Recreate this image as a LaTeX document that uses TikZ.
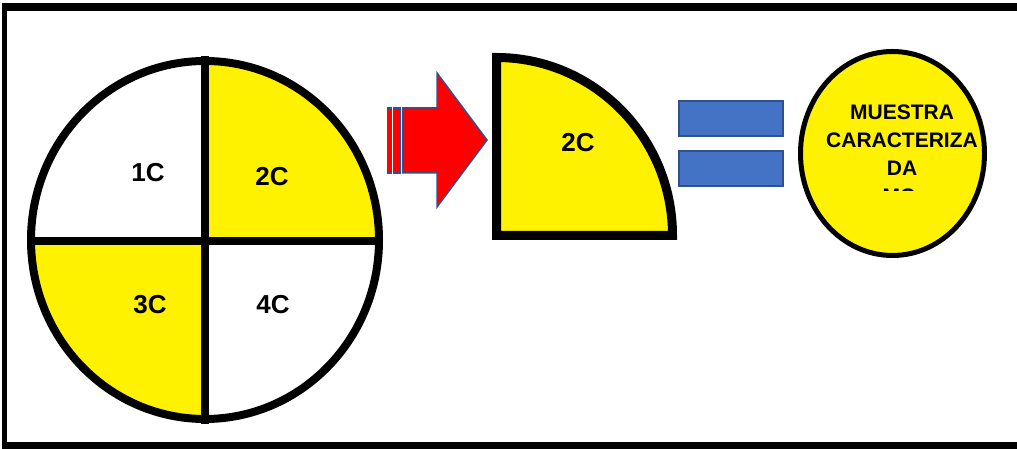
\documentclass[tikz,border=0pt]{standalone}
\usepackage{fontspec}
\setmainfont{Liberation Sans}
\definecolor{ylw}{HTML}{FFF200}
\definecolor{bfill}{HTML}{4472C4}
\definecolor{bline}{HTML}{2F528F}
\begin{document}
\begin{tikzpicture}[x=1pt,y=1pt,
  lbl/.style={font=\fontsize{26}{30}\selectfont\bfseries, inner sep=0pt},
  eqbar/.style={fill=bfill, draw=bline, line width=1.5pt},
  arrowpart/.style={fill=red, draw=bline, line width=1.5pt, line join=miter},
  etext/.style={font=\fontsize{21}{25}\selectfont\bfseries, inner sep=0pt, anchor=base}]
\useasboundingbox (0,0) rectangle (1017,449);
% frame
\draw[line width=8pt] (4.5,442) -- (1020,442);
\draw[line width=7pt] (4.5,3.5) -- (1020,3.5);
\draw[line width=5pt] (4.5,446) -- (4.5,0);
% circle
\coordinate (c) at (205,209);
\fill[ylw] (c) -- ++(174,0) arc[start angle=0,end angle=90,x radius=174,y radius=179] -- cycle;
\fill[ylw] (c) -- ++(-174,0) arc[start angle=180,end angle=270,x radius=174,y radius=179] -- cycle;
\draw[line width=8pt] (c) ellipse[x radius=174,y radius=179];
\coordinate (vt) at (205,393);
\coordinate (vb) at (205,25);
\coordinate (hl) at (31,208);
\coordinate (hr) at (379,208);
\draw[line width=8pt] (vt) -- (vb);
\draw[line width=8pt] (hl) -- (hr);
\node[lbl] (l1) at (148,276) {1C};
\node[lbl] (l2) at (272,272) {2C};
\node[lbl] (l3) at (150,144) {3C};
\node[lbl] (l4) at (273,144) {4C};
% striped arrow
\draw[arrowpart] (387.5,276) rectangle (391.5,341);
\draw[arrowpart] (393.5,276) rectangle (400.5,341);
\draw[arrowpart] (402.5,276) -- (437,276) -- (437,242) -- (487,309) -- (437,376) -- (437,341) -- (402.5,341) -- cycle;
% quarter
\coordinate (q) at (496.5,213.5);
\filldraw[fill=ylw, draw=black, line width=9pt, line join=miter] (q) -- ++(176,0) arc[start angle=0,end angle=90,x radius=176,y radius=178] -- cycle;
\node[lbl] (q2) at (578,306) {2C};
% equals
\draw[eqbar] (679,313) rectangle (783,348);
\draw[eqbar] (679,263) rectangle (783,298);
% ellipse
\filldraw[fill=ylw, draw=black, line width=5pt] (892.5,295.5) ellipse[x radius=92,y radius=102];
\node[etext] (e1) at (902,329.5) {MUESTRA};
\node[etext] (e2) at (902,301.5) {CARACTERIZA};
\node[etext] (e3) at (902,273.5) {DA};
\begin{scope}
\clip (800,258.5) rectangle (990,300);
\node[etext] (e4) at (899,245.5) {MC};
\end{scope}
\end{tikzpicture}
\end{document}
